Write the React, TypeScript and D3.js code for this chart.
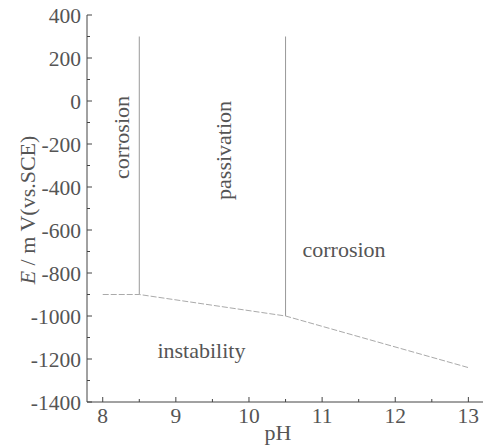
import React from "react";
import * as d3 from "d3";

const xTicks = [8, 9, 10, 11, 12, 13];
const yTicks = [400, 200, 0, -200, -400, -600, -800, -1000, -1200, -1400];
const boundaryPH = [8.0, 8.5, 10.5, 13.0];
const boundaryE = [-900, -900, -1000, -1240];
const verticalPH = [8.5, 10.5];
const verticalTop = [300, 300];
const verticalBottom = [-900, -1000];
const regionLabels = ["corrosion", "passivation", "corrosion", "instability"];
const regionPH = [8.25, 9.65, 11.3, 9.35];
const regionE = [-170, -230, -690, -1160];
const regionRotate = [true, true, false, false];

const W = 489;
const H = 446;
const x = d3.scaleLinear().domain([7.785, 13.2]).range([87, 483]);
const y = d3.scaleLinear().domain([-1400, 400]).range([402, 15]);
const FONT = "Liberation Serif, Times New Roman, Tinos, DejaVu Serif, serif";
const TXT = "#555";
const AX = "#444";

export default function App() {
  const line = d3
    .line<number>()
    .x((_, i) => x(boundaryPH[i]))
    .y((d) => y(d));
  const xMinor = d3.range(8, 13.01, 0.5);
  const yMinor = d3.range(-1400, 401, 100);
  return (
    <svg width={W} height={H} style={{ position: "absolute", left: 0, top: 0, background: "#fff" }}>
      <line x1={x.range()[0]} x2={x.range()[0]} y1={y(400)} y2={y(-1400)} stroke={AX} strokeWidth={1} />
      <line x1={x.range()[0]} x2={x.range()[1]} y1={y(-1400)} y2={y(-1400)} stroke={AX} strokeWidth={1} />
      {yMinor.map((v) => (
        <line key={"ym" + v} x1={x.range()[0]} x2={x.range()[0] + (v % 200 === 0 ? 5 : 3)} y1={y(v)} y2={y(v)} stroke={AX} strokeWidth={1} />
      ))}
      {xMinor.map((v) => (
        <line key={"xm" + v} x1={x(v)} x2={x(v)} y1={y(-1400)} y2={y(-1400) - (Number.isInteger(v) ? 5 : 3)} stroke={AX} strokeWidth={1} />
      ))}
      {yTicks.map((v) => (
        <text key={"yt" + v} x={81} y={y(v)} dy="0.35em" textAnchor="end" fontFamily={FONT} fontSize={21.5} fill={TXT}>
          {v}
        </text>
      ))}
      {xTicks.map((v) => (
        <text key={"xt" + v} x={x(v)} y={y(-1400) + 21} textAnchor="middle" fontFamily={FONT} fontSize={21.5} fill={TXT}>
          {v}
        </text>
      ))}
      <text x={278} y={440} textAnchor="middle" fontFamily={FONT} fontSize={22} fill={TXT}>
        pH
      </text>
      <text transform={`translate(35,210) rotate(-90)`} textAnchor="middle" fontFamily={FONT} fontSize={22} fill={TXT}>
        <tspan fontStyle="italic">E</tspan> / m V(vs.SCE)
      </text>
      {verticalPH.map((p, i) => (
        <line key={"v" + i} x1={x(p)} x2={x(p)} y1={y(verticalTop[i])} y2={y(verticalBottom[i])} stroke="#999" strokeWidth={1} />
      ))}
      <path d={line(boundaryE) || ""} fill="none" stroke="#aaa" strokeWidth={1} strokeDasharray="6,2" />
      {regionLabels.map((t, i) => {
        const cx = x(regionPH[i]);
        const cy = y(regionE[i]);
        return (
          <text
            key={"r" + i}
            transform={regionRotate[i] ? `translate(${cx},${cy}) rotate(-90)` : `translate(${cx},${cy})`}
            textAnchor="middle"
            dy="0.35em"
            fontFamily={FONT}
            fontSize={22}
            fill={TXT}
          >
            {t}
          </text>
        );
      })}
    </svg>
  );
}
